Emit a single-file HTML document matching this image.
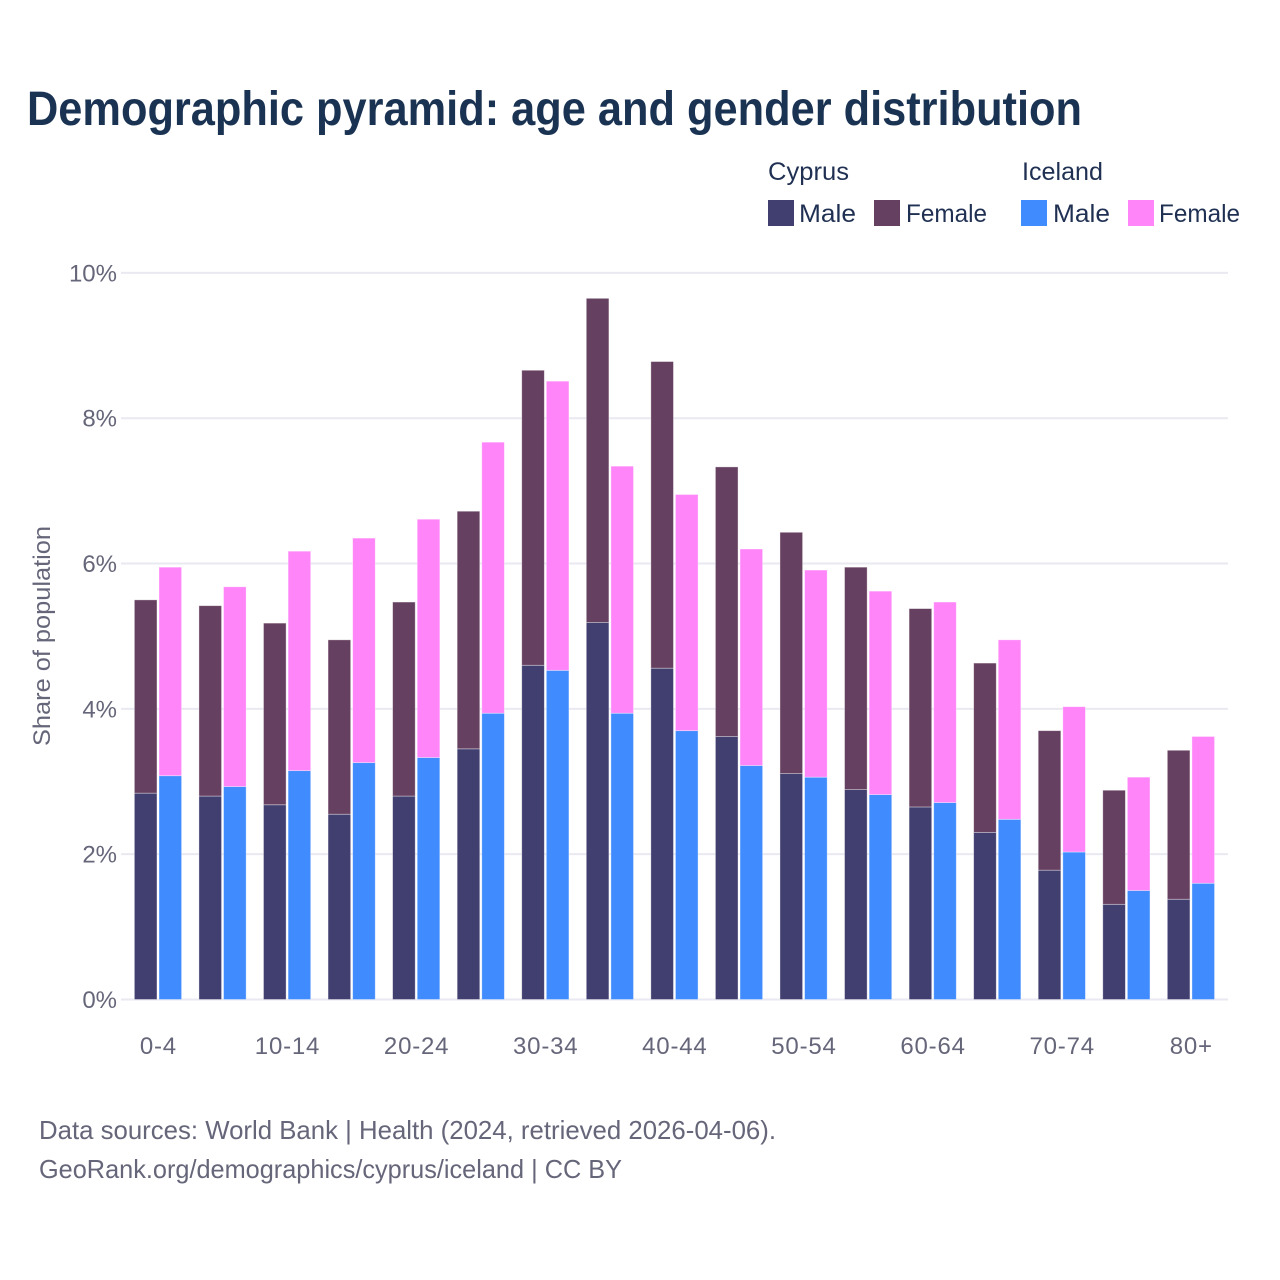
<!DOCTYPE html>
<html lang="en">
<head>
<meta charset="utf-8">
<title>Demographic pyramid: age and gender distribution</title>
<style>
html,body{margin:0;padding:0;background:#fff;}
svg{display:block;font-family:"Liberation Sans",Arial,sans-serif;}
.legend-text{font-size:25px;fill:#1f3052;}
.footer-text{font-size:26px;fill:#66667a;}
.tick-text{font-size:24px;fill:#66667a;}
</style>
</head>
<body>
<svg id="chart" xmlns="http://www.w3.org/2000/svg" width="1280" height="1280" viewBox="0 0 1280 1280">
  <rect x="0" y="0" width="1280" height="1280" fill="#ffffff"/>
  <text x="27" y="125" font-size="48" font-weight="700" fill="#1a3353" textLength="1055" lengthAdjust="spacingAndGlyphs">Demographic pyramid: age and gender distribution</text>

  <g>
    <text class="legend-text" x="768" y="180" textLength="81" lengthAdjust="spacingAndGlyphs">Cyprus</text>
    <text class="legend-text" x="1022" y="180" textLength="81" lengthAdjust="spacingAndGlyphs">Iceland</text>
    <rect x="768" y="200" width="26" height="26" fill="#413e70"/>
    <text class="legend-text" x="799" y="222" textLength="57" lengthAdjust="spacingAndGlyphs">Male</text>
    <rect x="874" y="200" width="26" height="26" fill="#664060"/>
    <text class="legend-text" x="906" y="222" textLength="81" lengthAdjust="spacingAndGlyphs">Female</text>
    <rect x="1021" y="200" width="26" height="26" fill="#408cff"/>
    <text class="legend-text" x="1053" y="222" textLength="57" lengthAdjust="spacingAndGlyphs">Male</text>
    <rect x="1128" y="200" width="26" height="26" fill="#ff85f9"/>
    <text class="legend-text" x="1159" y="222" textLength="81" lengthAdjust="spacingAndGlyphs">Female</text>
  </g>

  <g id="grid"></g>
  <g id="yticks"></g>
  <g id="bars"></g>
  <g id="xticks"></g>

  <text class="tick-text" transform="translate(50,636) rotate(-90)" text-anchor="middle" textLength="220" lengthAdjust="spacingAndGlyphs">Share of population</text>

  <text class="footer-text" x="39" y="1139" textLength="737" lengthAdjust="spacingAndGlyphs">Data sources: World Bank | Health (2024, retrieved 2026-04-06).</text>
  <text class="footer-text" x="39" y="1178" textLength="583" lengthAdjust="spacingAndGlyphs">GeoRank.org/demographics/cyprus/iceland | CC BY</text>
</svg>
<script>
const categories = ["0-4","5-9","10-14","15-19","20-24","25-29","30-34","35-39","40-44","45-49","50-54","55-59","60-64","65-69","70-74","75-79","80+"];
const cyprusMale = [2.84,2.80,2.68,2.55,2.80,3.45,4.60,5.19,4.56,3.62,3.11,2.89,2.65,2.30,1.78,1.31,1.38];
const cyprusFemale = [2.66,2.62,2.50,2.40,2.67,3.27,4.06,4.46,4.22,3.71,3.32,3.06,2.73,2.33,1.92,1.57,2.05];
const icelandMale = [3.08,2.93,3.15,3.26,3.33,3.94,4.53,3.94,3.70,3.22,3.06,2.82,2.71,2.48,2.03,1.50,1.60];
const icelandFemale = [2.87,2.75,3.02,3.09,3.28,3.73,3.98,3.40,3.25,2.98,2.85,2.80,2.76,2.47,2.00,1.56,2.02];
const yTicks = [0,2,4,6,8,10];
const xLabels = ["0-4","10-14","20-24","30-34","40-44","50-54","60-64","70-74","80+"];

const SVG_NS = "http://www.w3.org/2000/svg";
const plotLeft = 125.7, bandWidth = 64.56, barWidth = 22.6, barStep = 24.6;
const yZero = 999.5, pxPerUnit = 72.66;
const colors = {cyprusMale:"#413e70", cyprusFemale:"#664060", icelandMale:"#408cff", icelandFemale:"#ff85f9"};

function yScale(v){ return yZero - v * pxPerUnit; }
function xBand(i){ return plotLeft + bandWidth * (i + 0.5); }

function make(tag, attrs, parent){
  const el = document.createElementNS(SVG_NS, tag);
  for (const k in attrs) el.setAttribute(k, attrs[k]);
  parent.appendChild(el);
  return el;
}

const gridGroup = document.getElementById("grid");
const yGroup = document.getElementById("yticks");
yTicks.forEach(function(t){
  const line = make("line", {x1:121, x2:1228, y1:yScale(t), y2:yScale(t), stroke:"#e9e9f1", "stroke-width":2}, gridGroup);
  
  
  const label = make("text", {x:117, y:yScale(t) + 8.5, "text-anchor":"end", class:"tick-text"}, yGroup);
  
  
  label.textContent = t + "%";
});

const barGroup = document.getElementById("bars");
function drawBar(x, base, value, fill, series, category){
  const top = yScale(base + value);
  const bar = make("rect", {x:x, y:top, width:barWidth, height:yScale(base) - top, fill:fill, stroke:"#ffffff", "stroke-opacity":0.45, "stroke-width":0.8}, barGroup);
  
  
}
categories.forEach(function(cat, i){
  const cx = xBand(i);
  const maleX = cx - barStep / 2 - barWidth / 2;
  const iceX = cx + barStep / 2 - barWidth / 2;
  drawBar(maleX, 0, cyprusMale[i], colors.cyprusMale, "cyprus-male", cat);
  drawBar(maleX, cyprusMale[i], cyprusFemale[i], colors.cyprusFemale, "cyprus-female", cat);
  drawBar(iceX, 0, icelandMale[i], colors.icelandMale, "iceland-male", cat);
  drawBar(iceX, icelandMale[i], icelandFemale[i], colors.icelandFemale, "iceland-female", cat);
});

const xGroup = document.getElementById("xticks");
xLabels.forEach(function(lab){
  const i = categories.indexOf(lab);
  const label = make("text", {x:xBand(i) + 0.4, y:1054, "text-anchor":"middle", class:"tick-text", "letter-spacing":"0.8"}, xGroup);
  
  
  label.textContent = lab;
});
</script>
</body>
</html>
